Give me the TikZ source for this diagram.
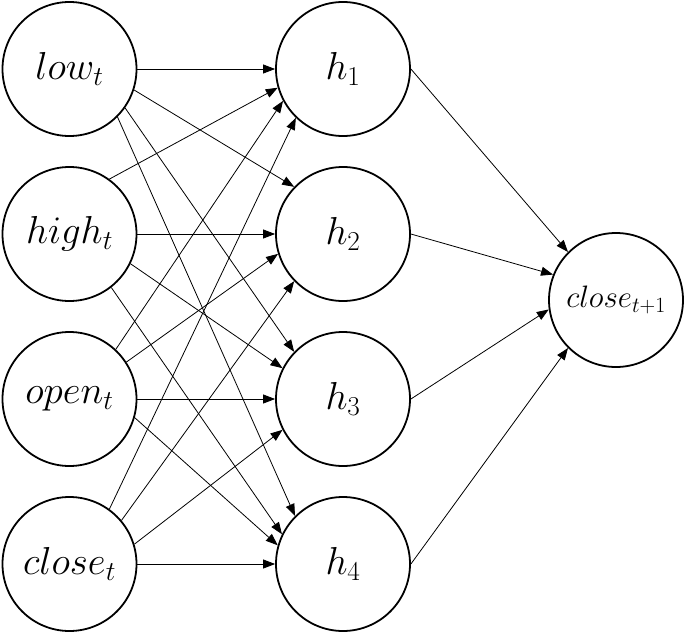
\RequirePackage{fix-cm}
\documentclass[tikz,border=0pt]{standalone}
\usetikzlibrary{arrows.meta}
\begin{document}
\begin{tikzpicture}[x=1pt,y=-1pt,
  neuron/.style={circle,draw,line width=1.8pt,minimum size=134pt,inner sep=0pt,
    font=\fontsize{39}{41}\selectfont},
  outneuron/.style={neuron,font=\fontsize{31}{33}\selectfont},
  conn/.style={line width=0.8pt,-{Triangle[length=12pt,width=9pt]}}]
\useasboundingbox (0,0) rectangle (685,635);
\node[neuron] (low)   at (69.5,69)  {$low_t$};
\node[neuron] (high)  at (69.5,234) {$high_t$};
\node[neuron] (open)  at (69.5,399) {$open_t$};
\node[neuron] (close) at (69.5,564) {$close_t$};
\node[neuron] (h1) at (343,69)  {$h_1$};
\node[neuron] (h2) at (343,234) {$h_2$};
\node[neuron] (h3) at (343,399) {$h_3$};
\node[neuron] (h4) at (343,564) {$h_4$};
\node[outneuron] (out) at (616,300) {$close_{t+1}$};
\draw[conn] (low.0)   -- (h1.180);
\draw[conn] (low.-18) -- (h2.136);
\draw[conn] (low.-35) -- (h3.136);
\draw[conn] (low.-45) -- (h4.135);
\draw[conn] (high.54)  -- (h1.196);
\draw[conn] (high.0)   -- (h2.180);
\draw[conn] (high.-26) -- (h3.153);
\draw[conn] (high.-52) -- (h4.154);
\draw[conn] (open.47)  -- (h1.208);
\draw[conn] (open.33)  -- (h2.197);
\draw[conn] (open.0)   -- (h3.180);
\draw[conn] (open.-16) -- (h4.164);
\draw[conn] (close.54) -- (h1.226);
\draw[conn] (close.40) -- (h2.224);
\draw[conn] (close.17) -- (h3.207);
\draw[conn] (close.0)  -- (h4.180);
\draw[conn] (h1.east) -- (out.135);
\draw[conn] (h2.east) -- (out.158);
\draw[conn] (h3.east) -- (out.188);
\draw[conn] (h4.east) -- (out.225);
\end{tikzpicture}
\end{document}
